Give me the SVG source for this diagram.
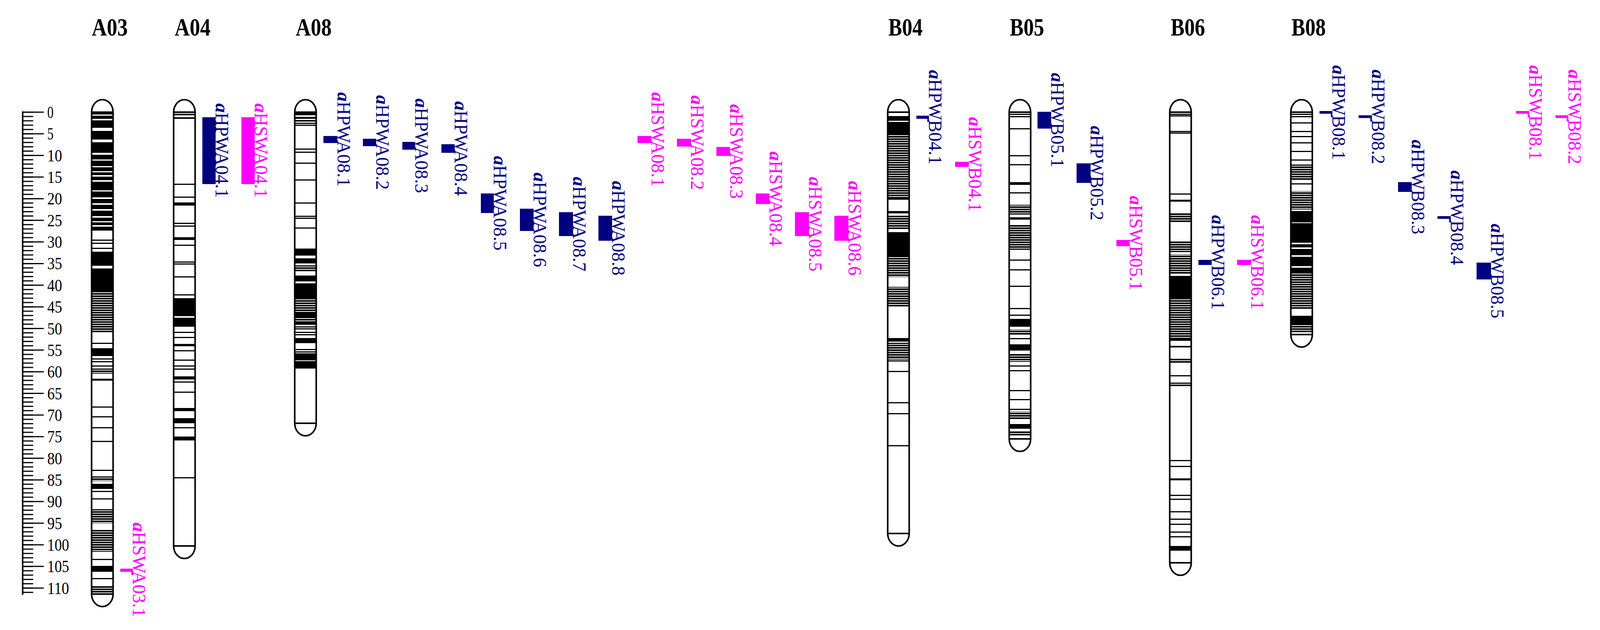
<svg xmlns="http://www.w3.org/2000/svg" width="4140" height="1612" viewBox="0 0 4140 1612">
<style>
.t{font-family:"Liberation Serif",serif;font-weight:bold;font-size:64px;fill:#000}
.r{font-family:"Liberation Serif",serif;font-size:45px;fill:#000}
.q{font-family:"Liberation Serif",serif;font-size:48px}
.i{font-style:italic;font-weight:bold}
.n{fill:#000080}.m{fill:#FF00FF}
.o{fill:none;stroke:#000;stroke-width:4}
.b{fill:#000}.s{fill:url(#st)}
</style>
<defs>
<pattern id="st" patternUnits="userSpaceOnUse" width="4140" height="6"><rect width="4140" height="4" fill="#000"/></pattern>
<pattern id="tk" patternUnits="userSpaceOnUse" x="0" y="285.5" width="200" height="11.07"><rect width="200" height="3" fill="#000"/></pattern>
</defs>
<g id="titles">
<text class="t" x="235" y="91" textLength="92" lengthAdjust="spacingAndGlyphs">A03</text>
<text class="t" x="447" y="91" textLength="92" lengthAdjust="spacingAndGlyphs">A04</text>
<text class="t" x="757" y="91" textLength="92" lengthAdjust="spacingAndGlyphs">A08</text>
<text class="t" x="2274" y="91" textLength="88" lengthAdjust="spacingAndGlyphs">B04</text>
<text class="t" x="2585" y="91" textLength="88" lengthAdjust="spacingAndGlyphs">B05</text>
<text class="t" x="2997" y="91" textLength="88" lengthAdjust="spacingAndGlyphs">B06</text>
<text class="t" x="3306" y="91" textLength="88" lengthAdjust="spacingAndGlyphs">B08</text>
</g>
<g id="ruler">
<rect x="56" y="285" width="4" height="1237" fill="#000"/>
<rect x="58" y="285.5" width="27" height="1236" fill="url(#tk)"/>
<path stroke="#000" stroke-width="3" d="M58,287H112M58,342.35H112M58,397.7H112M58,453.05H112M58,508.4H112M58,563.75H112M58,619.1H112M58,674.45H112M58,729.8H112M58,785.15H112M58,840.5H112M58,895.85H112M58,951.2H112M58,1006.55H112M58,1061.9H112M58,1117.25H112M58,1172.6H112M58,1227.95H112M58,1283.3H112M58,1338.65H112M58,1394H112M58,1449.35H112M58,1504.7H112"/>
<g class="r" dominant-baseline="central">
<text x="121" y="287" textLength="16" lengthAdjust="spacingAndGlyphs">0</text>
<text x="121" y="342.35" textLength="16" lengthAdjust="spacingAndGlyphs">5</text>
<text x="121" y="397.7" textLength="38" lengthAdjust="spacingAndGlyphs">10</text>
<text x="121" y="453.05" textLength="38" lengthAdjust="spacingAndGlyphs">15</text>
<text x="121" y="508.4" textLength="38" lengthAdjust="spacingAndGlyphs">20</text>
<text x="121" y="563.75" textLength="38" lengthAdjust="spacingAndGlyphs">25</text>
<text x="121" y="619.1" textLength="38" lengthAdjust="spacingAndGlyphs">30</text>
<text x="121" y="674.45" textLength="38" lengthAdjust="spacingAndGlyphs">35</text>
<text x="121" y="729.8" textLength="38" lengthAdjust="spacingAndGlyphs">40</text>
<text x="121" y="785.15" textLength="38" lengthAdjust="spacingAndGlyphs">45</text>
<text x="121" y="840.5" textLength="38" lengthAdjust="spacingAndGlyphs">50</text>
<text x="121" y="895.85" textLength="38" lengthAdjust="spacingAndGlyphs">55</text>
<text x="121" y="951.2" textLength="38" lengthAdjust="spacingAndGlyphs">60</text>
<text x="121" y="1006.55" textLength="38" lengthAdjust="spacingAndGlyphs">65</text>
<text x="121" y="1061.9" textLength="38" lengthAdjust="spacingAndGlyphs">70</text>
<text x="121" y="1117.25" textLength="38" lengthAdjust="spacingAndGlyphs">75</text>
<text x="121" y="1172.6" textLength="38" lengthAdjust="spacingAndGlyphs">80</text>
<text x="121" y="1227.95" textLength="38" lengthAdjust="spacingAndGlyphs">85</text>
<text x="121" y="1283.3" textLength="38" lengthAdjust="spacingAndGlyphs">90</text>
<text x="121" y="1338.65" textLength="38" lengthAdjust="spacingAndGlyphs">95</text>
<text x="121" y="1394" textLength="56" lengthAdjust="spacingAndGlyphs">100</text>
<text x="121" y="1449.35" textLength="56" lengthAdjust="spacingAndGlyphs">105</text>
<text x="121" y="1504.7" textLength="56" lengthAdjust="spacingAndGlyphs">110</text>
</g>
</g>
<g id="A03" transform="translate(234.5,0)">
<g>
<rect class="b" x="0" y="287" width="55" height="6"/><rect class="b" x="0" y="296" width="55" height="8"/><rect class="b" x="0" y="308" width="55" height="19"/>
<rect class="b" x="0" y="335" width="55" height="22"/><rect class="b" x="0" y="364" width="55" height="27"/><rect class="b" x="0" y="396" width="55" height="12"/>
<rect class="b" x="0" y="411" width="55" height="14"/><rect class="b" x="0" y="428" width="55" height="10"/><rect class="b" x="0" y="441" width="55" height="7"/>
<rect class="b" x="0" y="452" width="55" height="9"/><rect class="b" x="0" y="465" width="55" height="22"/><rect class="b" x="0" y="490" width="55" height="15"/>
<rect class="b" x="0" y="509" width="55" height="11"/><rect class="b" x="0" y="524" width="55" height="11"/><rect class="b" x="0" y="539" width="55" height="14"/>
<rect class="b" x="0" y="557" width="55" height="9"/><rect class="b" x="0" y="569" width="55" height="7"/><rect class="b" x="0" y="580" width="55" height="10"/>
<rect class="b" x="0" y="613" width="55" height="3"/><rect class="b" x="0" y="621" width="55" height="3"/><rect class="b" x="0" y="634" width="55" height="3"/>
<rect class="b" x="0" y="644" width="55" height="36"/><rect class="b" x="0" y="687" width="55" height="58"/>
<rect class="s" x="0" y="745" width="55" height="105"/>
<rect class="b" x="0" y="877" width="55" height="3"/><rect class="b" x="0" y="891" width="55" height="20"/><rect class="b" x="0" y="917" width="55" height="3"/>
<rect class="b" x="0" y="924" width="55" height="3"/><rect class="b" x="0" y="935" width="55" height="3"/><rect class="s" x="0" y="943" width="55" height="13"/>
<rect class="b" x="0" y="969" width="55" height="5"/><rect class="b" x="0" y="1040" width="55" height="3"/><rect class="b" x="0" y="1065" width="55" height="3"/>
<rect class="b" x="0" y="1093" width="55" height="3"/><rect class="b" x="0" y="1128" width="55" height="3"/><rect class="b" x="0" y="1202" width="55" height="3"/>
<rect class="s" x="0" y="1219" width="55" height="12"/><rect class="b" x="0" y="1238" width="55" height="13"/><rect class="b" x="0" y="1256" width="55" height="3"/>
<rect class="b" x="0" y="1275" width="55" height="3"/><rect class="s" x="0" y="1303" width="55" height="36"/><rect class="s" x="0" y="1355" width="55" height="57"/>
<rect class="b" x="0" y="1430" width="55" height="3"/><rect class="b" x="0" y="1448" width="55" height="15"/><rect class="b" x="0" y="1479" width="55" height="3"/>
<rect class="s" x="0" y="1500" width="55" height="20"/>
</g>
<path class="o" d="M0,287A27.5,32 0 0 1 55,287V1520A27.5,32 0 0 1 0,1520ZM0,287H55M0,1520H55"/>
</g>
<g id="A04" transform="translate(444.5,0)">
<g>
<rect class="b" x="0" y="291" width="55" height="4"/><rect class="b" x="0" y="300" width="55" height="4"/><rect class="b" x="0" y="470" width="55" height="3"/>
<rect class="b" x="0" y="503" width="55" height="3"/><rect class="b" x="0" y="518" width="55" height="8"/><rect class="b" x="0" y="570" width="55" height="3"/>
<rect class="b" x="0" y="577" width="55" height="3"/><rect class="b" x="0" y="607" width="55" height="7"/><rect class="b" x="0" y="626" width="55" height="3"/>
<rect class="b" x="0" y="669" width="55" height="3"/><rect class="b" x="0" y="674" width="55" height="3"/><rect class="b" x="0" y="707" width="55" height="3"/>
<rect class="b" x="0" y="753" width="55" height="3"/><rect class="b" x="0" y="763" width="55" height="46"/><rect class="b" x="0" y="813" width="55" height="23"/>
<rect class="b" x="0" y="849" width="55" height="3"/><rect class="b" x="0" y="862" width="55" height="3"/><rect class="b" x="0" y="880" width="55" height="6"/>
<rect class="b" x="0" y="896" width="55" height="3"/><rect class="b" x="0" y="920" width="55" height="3"/><rect class="b" x="0" y="935" width="55" height="3"/>
<rect class="b" x="0" y="943" width="55" height="3"/><rect class="b" x="0" y="963" width="55" height="8"/><rect class="b" x="0" y="976" width="55" height="3"/>
<rect class="b" x="0" y="1002" width="55" height="3"/><rect class="b" x="0" y="1044" width="55" height="8"/><rect class="b" x="0" y="1070" width="55" height="13"/>
<rect class="b" x="0" y="1093" width="55" height="3"/><rect class="b" x="0" y="1117" width="55" height="10"/><rect class="b" x="0" y="1221" width="55" height="3"/>
</g>
<path class="o" d="M0,287A27.5,32 0 0 1 55,287V1397A27.5,32 0 0 1 0,1397ZM0,287H55M0,1397H55"/>
</g>
<g id="A08" transform="translate(754.5,0)">
<g>
<rect class="b" x="0" y="289" width="55" height="6"/><rect class="b" x="0" y="299" width="55" height="5"/><rect class="b" x="0" y="307" width="55" height="4"/>
<rect class="b" x="0" y="314" width="55" height="3"/><rect class="b" x="0" y="319" width="55" height="3"/><rect class="b" x="0" y="380" width="55" height="3"/>
<rect class="b" x="0" y="388" width="55" height="3"/><rect class="b" x="0" y="416" width="55" height="3"/><rect class="b" x="0" y="459" width="55" height="3"/>
<rect class="b" x="0" y="518" width="55" height="3"/><rect class="b" x="0" y="552" width="55" height="3"/><rect class="b" x="0" y="557" width="55" height="3"/>
<rect class="b" x="0" y="582" width="55" height="3"/><rect class="b" x="0" y="636" width="55" height="18"/><rect class="b" x="0" y="661" width="55" height="13"/>
<rect class="s" x="0" y="679" width="55" height="16"/><rect class="b" x="0" y="705" width="55" height="15"/><rect class="b" x="0" y="725" width="55" height="41"/>
<rect class="s" x="0" y="768" width="55" height="32"/><rect class="b" x="0" y="800" width="55" height="10"/><rect class="s" x="0" y="810" width="55" height="13"/>
<rect class="b" x="0" y="823" width="55" height="8"/><rect class="s" x="0" y="835" width="55" height="8"/><rect class="b" x="0" y="849" width="55" height="3"/>
<rect class="b" x="0" y="855" width="55" height="3"/><rect class="b" x="0" y="865" width="55" height="13"/><rect class="b" x="0" y="893" width="55" height="3"/>
<rect class="b" x="0" y="899" width="55" height="3"/><rect class="b" x="0" y="904" width="55" height="18"/><rect class="b" x="0" y="924" width="55" height="19"/>
</g>
<path class="o" d="M0,287A27.5,32 0 0 1 55,287V1083A27.5,32 0 0 1 0,1083ZM0,287H55M0,1083H55"/>
</g>
<g id="B04" transform="translate(2272.5,0)">
<g>
<rect class="b" x="0" y="297" width="55" height="12"/><rect class="b" x="0" y="312" width="55" height="30"/><rect class="s" x="0" y="342" width="55" height="162"/>
<rect class="b" x="0" y="504" width="55" height="7"/><rect class="b" x="0" y="540" width="55" height="6"/><rect class="s" x="0" y="550" width="55" height="36"/>
<rect class="b" x="0" y="594" width="55" height="64"/><rect class="s" x="0" y="658" width="55" height="51"/><rect class="s" x="0" y="734" width="55" height="51"/>
<rect class="b" x="0" y="865" width="55" height="9"/><rect class="s" x="0" y="877" width="55" height="43"/><rect class="b" x="0" y="922" width="55" height="3"/>
<rect class="b" x="0" y="949" width="55" height="3"/><rect class="b" x="0" y="1029" width="55" height="3"/><rect class="b" x="0" y="1057" width="55" height="3"/>
<rect class="b" x="0" y="1139" width="55" height="3"/>
</g>
<path class="o" d="M0,287A27.5,32 0 0 1 55,287V1365A27.5,32 0 0 1 0,1365ZM0,287H55M0,1365H55"/>
</g>
<g id="B05" transform="translate(2583.5,0)">
<g>
<rect class="b" x="0" y="291" width="55" height="3"/><rect class="b" x="0" y="297" width="55" height="3"/><rect class="b" x="0" y="328" width="55" height="3"/>
<rect class="b" x="0" y="397" width="55" height="3"/><rect class="b" x="0" y="420" width="55" height="3"/><rect class="b" x="0" y="466" width="55" height="7"/>
<rect class="b" x="0" y="492" width="55" height="3"/><rect class="s" x="0" y="524" width="55" height="25"/><rect class="b" x="0" y="556" width="55" height="6"/>
<rect class="s" x="0" y="575" width="55" height="64"/><rect class="b" x="0" y="664" width="55" height="3"/><rect class="b" x="0" y="689" width="55" height="3"/>
<rect class="b" x="0" y="731" width="55" height="3"/><rect class="b" x="0" y="788" width="55" height="3"/><rect class="b" x="0" y="805" width="55" height="3"/>
<rect class="b" x="0" y="816" width="55" height="20"/><rect class="s" x="0" y="843" width="55" height="13"/><rect class="b" x="0" y="865" width="55" height="3"/>
<rect class="b" x="0" y="881" width="55" height="16"/><rect class="s" x="0" y="906" width="55" height="20"/><rect class="b" x="0" y="935" width="55" height="3"/>
<rect class="b" x="0" y="947" width="55" height="3"/><rect class="b" x="0" y="998" width="55" height="3"/><rect class="b" x="0" y="1021" width="55" height="3"/>
<rect class="b" x="0" y="1046" width="55" height="3"/><rect class="s" x="0" y="1053" width="55" height="19"/><rect class="b" x="0" y="1085" width="55" height="12"/>
<rect class="s" x="0" y="1104" width="55" height="12"/>
</g>
<path class="o" d="M0,287A27.5,32 0 0 1 55,287V1123A27.5,32 0 0 1 0,1123ZM0,287H55M0,1123H55"/>
</g>
<g id="B06" transform="translate(2994.5,0)">
<g>
<rect class="b" x="0" y="291" width="55" height="3"/><rect class="b" x="0" y="295" width="55" height="3"/><rect class="b" x="0" y="335" width="55" height="3"/>
<rect class="b" x="0" y="339" width="55" height="3"/><rect class="b" x="0" y="495" width="55" height="3"/><rect class="b" x="0" y="511" width="55" height="5"/>
<rect class="s" x="0" y="546" width="55" height="22"/><rect class="s" x="0" y="616" width="55" height="29"/><rect class="s" x="0" y="651" width="55" height="51"/>
<rect class="b" x="0" y="706" width="55" height="60"/><rect class="s" x="0" y="766" width="55" height="101"/><rect class="b" x="0" y="867" width="55" height="5"/>
<rect class="b" x="0" y="885" width="55" height="4"/><rect class="s" x="0" y="918" width="55" height="10"/><rect class="b" x="0" y="960" width="55" height="3"/>
<rect class="s" x="0" y="979" width="55" height="10"/><rect class="b" x="0" y="1177" width="55" height="3"/><rect class="b" x="0" y="1192" width="55" height="3"/>
<rect class="b" x="0" y="1224" width="55" height="5"/><rect class="b" x="0" y="1266" width="55" height="3"/><rect class="b" x="0" y="1276" width="55" height="3"/>
<rect class="b" x="0" y="1308" width="55" height="3"/><rect class="b" x="0" y="1327" width="55" height="3"/><rect class="b" x="0" y="1340" width="55" height="3"/>
<rect class="b" x="0" y="1360" width="55" height="3"/><rect class="b" x="0" y="1372" width="55" height="3"/><rect class="b" x="0" y="1397" width="55" height="12"/>
</g>
<path class="o" d="M0,287A27.5,32 0 0 1 55,287V1440A27.5,32 0 0 1 0,1440ZM0,287H55M0,1440H55"/>
</g>
<g id="B08" transform="translate(3304.5,0)">
<g>
<rect class="b" x="0" y="291" width="55" height="3"/><rect class="b" x="0" y="297" width="55" height="3"/><rect class="b" x="0" y="313" width="55" height="3"/>
<rect class="b" x="0" y="335" width="55" height="3"/><rect class="b" x="0" y="348" width="55" height="3"/><rect class="b" x="0" y="364" width="55" height="3"/>
<rect class="b" x="0" y="386" width="55" height="3"/><rect class="b" x="0" y="408" width="55" height="3"/><rect class="s" x="0" y="421" width="55" height="39"/>
<rect class="b" x="0" y="469" width="55" height="3"/><rect class="s" x="0" y="489" width="55" height="47"/><rect class="b" x="0" y="540" width="55" height="29"/>
<rect class="b" x="0" y="571" width="55" height="50"/><rect class="b" x="0" y="625" width="55" height="8"/><rect class="b" x="0" y="637" width="55" height="16"/>
<rect class="b" x="0" y="657" width="55" height="24"/><rect class="b" x="0" y="685" width="55" height="14"/><rect class="s" x="0" y="699" width="55" height="93"/>
<rect class="b" x="0" y="808" width="55" height="22"/><rect class="s" x="0" y="830" width="55" height="22"/>
</g>
<path class="o" d="M0,287A27.5,32 0 0 1 55,287V856A27.5,32 0 0 1 0,856ZM0,287H55M0,856H55"/>
</g>
<g id="qtls" class="q">
<g id="HPWA04.1" class="n"><rect x="518" y="300" width="34" height="171"/><text transform="translate(552,385.5) rotate(90)" text-anchor="middle" textLength="242" lengthAdjust="spacingAndGlyphs"><tspan class="i">a</tspan>HPWA04.1</text></g>
<g id="HSWA04.1" class="m"><rect x="618" y="300" width="34" height="171"/><text transform="translate(652,385.5) rotate(90)" text-anchor="middle" textLength="242" lengthAdjust="spacingAndGlyphs"><tspan class="i">a</tspan>HSWA04.1</text></g>
<g id="HSWA03.1" class="m"><rect x="308" y="1455" width="32" height="8"/><rect x="336" y="1455" width="4" height="16"/><text transform="translate(340,1458) rotate(90)" text-anchor="middle" textLength="242" lengthAdjust="spacingAndGlyphs"><tspan class="i">a</tspan>HSWA03.1</text></g>
<g id="HPWA08.1" class="n"><rect x="828" y="348" width="36" height="18"/><text transform="translate(864,357) rotate(90)" text-anchor="middle" textLength="242" lengthAdjust="spacingAndGlyphs"><tspan class="i">a</tspan>HPWA08.1</text></g>
<g id="HPWA08.2" class="n"><rect x="929" y="355" width="34" height="19"/><text transform="translate(963,364.5) rotate(90)" text-anchor="middle" textLength="242" lengthAdjust="spacingAndGlyphs"><tspan class="i">a</tspan>HPWA08.2</text></g>
<g id="HPWA08.3" class="n"><rect x="1030" y="363" width="33" height="20"/><text transform="translate(1063,373) rotate(90)" text-anchor="middle" textLength="242" lengthAdjust="spacingAndGlyphs"><tspan class="i">a</tspan>HPWA08.3</text></g>
<g id="HPWA08.4" class="n"><rect x="1130" y="369" width="34" height="22"/><text transform="translate(1164,380) rotate(90)" text-anchor="middle" textLength="242" lengthAdjust="spacingAndGlyphs"><tspan class="i">a</tspan>HPWA08.4</text></g>
<g id="HPWA08.5" class="n"><rect x="1231" y="495" width="33" height="50"/><text transform="translate(1264,520) rotate(90)" text-anchor="middle" textLength="242" lengthAdjust="spacingAndGlyphs"><tspan class="i">a</tspan>HPWA08.5</text></g>
<g id="HPWA08.6" class="n"><rect x="1331" y="534" width="35" height="57"/><text transform="translate(1366,562.5) rotate(90)" text-anchor="middle" textLength="242" lengthAdjust="spacingAndGlyphs"><tspan class="i">a</tspan>HPWA08.6</text></g>
<g id="HPWA08.7" class="n"><rect x="1431" y="543" width="36" height="61"/><text transform="translate(1467,573.5) rotate(90)" text-anchor="middle" textLength="242" lengthAdjust="spacingAndGlyphs"><tspan class="i">a</tspan>HPWA08.7</text></g>
<g id="HPWA08.8" class="n"><rect x="1532" y="552" width="35" height="64"/><text transform="translate(1567,584) rotate(90)" text-anchor="middle" textLength="242" lengthAdjust="spacingAndGlyphs"><tspan class="i">a</tspan>HPWA08.8</text></g>
<g id="HSWA08.1" class="m"><rect x="1632" y="348" width="36" height="18"/><text transform="translate(1668,357) rotate(90)" text-anchor="middle" textLength="242" lengthAdjust="spacingAndGlyphs"><tspan class="i">a</tspan>HSWA08.1</text></g>
<g id="HSWA08.2" class="m"><rect x="1733" y="355" width="36" height="20"/><text transform="translate(1769,365) rotate(90)" text-anchor="middle" textLength="242" lengthAdjust="spacingAndGlyphs"><tspan class="i">a</tspan>HSWA08.2</text></g>
<g id="HSWA08.3" class="m"><rect x="1834" y="376" width="35" height="23"/><text transform="translate(1869,387.5) rotate(90)" text-anchor="middle" textLength="242" lengthAdjust="spacingAndGlyphs"><tspan class="i">a</tspan>HSWA08.3</text></g>
<g id="HSWA08.4" class="m"><rect x="1935" y="495" width="35" height="27"/><text transform="translate(1970,508.5) rotate(90)" text-anchor="middle" textLength="242" lengthAdjust="spacingAndGlyphs"><tspan class="i">a</tspan>HSWA08.4</text></g>
<g id="HSWA08.5" class="m"><rect x="2035" y="543" width="36" height="61"/><text transform="translate(2071,573.5) rotate(90)" text-anchor="middle" textLength="242" lengthAdjust="spacingAndGlyphs"><tspan class="i">a</tspan>HSWA08.5</text></g>
<g id="HSWA08.6" class="m"><rect x="2136" y="552" width="36" height="64"/><text transform="translate(2172,584) rotate(90)" text-anchor="middle" textLength="242" lengthAdjust="spacingAndGlyphs"><tspan class="i">a</tspan>HSWA08.6</text></g>
<g id="HPWB04.1" class="n"><rect x="2346" y="296" width="32" height="8"/><rect x="2374" y="296" width="4" height="16"/><text transform="translate(2378,300) rotate(90)" text-anchor="middle" textLength="242" lengthAdjust="spacingAndGlyphs"><tspan class="i">a</tspan>HPWB04.1</text></g>
<g id="HSWB04.1" class="m"><rect x="2445" y="414" width="35" height="13"/><text transform="translate(2480,420.5) rotate(90)" text-anchor="middle" textLength="242" lengthAdjust="spacingAndGlyphs"><tspan class="i">a</tspan>HSWB04.1</text></g>
<g id="HPWB05.1" class="n"><rect x="2656" y="286" width="35" height="43"/><text transform="translate(2691,307.5) rotate(90)" text-anchor="middle" textLength="242" lengthAdjust="spacingAndGlyphs"><tspan class="i">a</tspan>HPWB05.1</text></g>
<g id="HPWB05.2" class="n"><rect x="2756" y="418" width="36" height="50"/><text transform="translate(2792,443) rotate(90)" text-anchor="middle" textLength="242" lengthAdjust="spacingAndGlyphs"><tspan class="i">a</tspan>HPWB05.2</text></g>
<g id="HSWB05.1" class="m"><rect x="2858" y="614" width="34" height="16"/><text transform="translate(2892,622) rotate(90)" text-anchor="middle" textLength="242" lengthAdjust="spacingAndGlyphs"><tspan class="i">a</tspan>HSWB05.1</text></g>
<g id="HPWB06.1" class="n"><rect x="3068" y="665" width="34" height="13"/><text transform="translate(3102,671.5) rotate(90)" text-anchor="middle" textLength="242" lengthAdjust="spacingAndGlyphs"><tspan class="i">a</tspan>HPWB06.1</text></g>
<g id="HSWB06.1" class="m"><rect x="3167" y="665" width="36" height="13"/><text transform="translate(3203,671.5) rotate(90)" text-anchor="middle" textLength="242" lengthAdjust="spacingAndGlyphs"><tspan class="i">a</tspan>HSWB06.1</text></g>
<g id="HPWB08.1" class="n"><rect x="3378" y="284" width="33" height="7"/><rect x="3407" y="284" width="4" height="16"/><text transform="translate(3411,288) rotate(90)" text-anchor="middle" textLength="242" lengthAdjust="spacingAndGlyphs"><tspan class="i">a</tspan>HPWB08.1</text></g>
<g id="HPWB08.2" class="n"><rect x="3478" y="295" width="34" height="7"/><rect x="3508" y="295" width="4" height="16"/><text transform="translate(3512,299) rotate(90)" text-anchor="middle" textLength="242" lengthAdjust="spacingAndGlyphs"><tspan class="i">a</tspan>HPWB08.2</text></g>
<g id="HPWB08.3" class="n"><rect x="3579" y="466" width="35" height="25"/><text transform="translate(3614,478.5) rotate(90)" text-anchor="middle" textLength="242" lengthAdjust="spacingAndGlyphs"><tspan class="i">a</tspan>HPWB08.3</text></g>
<g id="HPWB08.4" class="n"><rect x="3680" y="553" width="34" height="7"/><rect x="3710" y="553" width="4" height="16"/><text transform="translate(3714,557) rotate(90)" text-anchor="middle" textLength="242" lengthAdjust="spacingAndGlyphs"><tspan class="i">a</tspan>HPWB08.4</text></g>
<g id="HPWB08.5" class="n"><rect x="3780" y="672" width="37" height="43"/><text transform="translate(3817,693.5) rotate(90)" text-anchor="middle" textLength="242" lengthAdjust="spacingAndGlyphs"><tspan class="i">a</tspan>HPWB08.5</text></g>
<g id="HSWB08.1" class="m"><rect x="3881" y="284" width="34" height="7"/><rect x="3911" y="284" width="4" height="16"/><text transform="translate(3915,288) rotate(90)" text-anchor="middle" textLength="242" lengthAdjust="spacingAndGlyphs"><tspan class="i">a</tspan>HSWB08.1</text></g>
<g id="HSWB08.2" class="m"><rect x="3982" y="295" width="33" height="7"/><rect x="4011" y="295" width="4" height="16"/><text transform="translate(4015,299) rotate(90)" text-anchor="middle" textLength="242" lengthAdjust="spacingAndGlyphs"><tspan class="i">a</tspan>HSWB08.2</text></g>
</g>
<g id="connectors"/>
</svg>
